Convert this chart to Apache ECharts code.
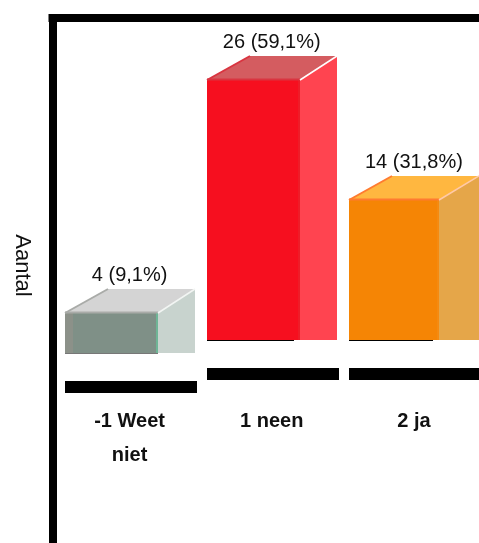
<!DOCTYPE html>
<html>
<head>
<meta charset="utf-8">
<style>html,body{margin:0;padding:0;background:#fff}#c{width:479px;height:543px}</style>
<script src="https://cdn.jsdelivr.net/npm/echarts@6/dist/echarts.min.js"></script>
</head>
<body>
<div id="c"></div>
<script>
const categories = ["-1 Weet\nniet", "1 neen", "2 ja"];
const counts = [4, 26, 14];
const valueLabels = ["4 (9,1%)", "26 (59,1%)", "14 (31,8%)"];
const axisName = "Aantal";

const palettes = [
  {front:"#7f9087", frontL:"#8c9189", accent:"#6fb596", side:"#c8d3ce", top:"#d4d4d4", edge:"#a9aba8", hi:"#f2f5f3", bottom:"#777777"},
  {front:"#f60f1f", frontL:"#f60f1f", accent:"#ee1c28", side:"#ff4450", top:"#d45c60", edge:"#d93440", hi:"#ffffff", bottom:"#000000"},
  {front:"#f58505", frontL:"#f58505", accent:"#f58a10", side:"#e5a649", top:"#ffb740", edge:"#ff7b30", hi:"#ffc9a8", bottom:"#000000"}
];

function renderBar(params, api) {
  const i = api.value(0);
  const zero = api.coord([i, 0]);
  const topPt = api.coord([i, api.value(1)]);
  const drop = i === 0 ? 13 : 0;
  const cx = zero[0];
  const base = zero[1] + drop;
  const top = topPt[1] + drop;
  const l = Math.round(cx - 58.6), r = l + (i === 2 ? 90 : 93), dxL = 43, dxR = i === 2 ? 40 : 37, dy = 24;
  const p = palettes[i];
  return {
    type: "group",
    children: [
      {type:"rect", shape:{x:l, y:top, width:r-l, height:base-top}, style:{fill:p.front}},
      {type:"rect", shape:{x:l, y:top, width:8, height:base-top}, style:{fill:p.frontL}},
      {type:"rect", shape:{x:r-2, y:top, width:2, height:base-top}, style:{fill:p.accent}},
      {type:"polygon", shape:{points:[[r,top],[r+dxR,top-dy],[r+dxR,base],[r,base]]}, style:{fill:p.side}},
      {type:"polygon", shape:{points:[[l,top],[l+dxL,top-dy],[r+dxR,top-dy],[r,top]]}, style:{fill:p.top}},
      {type:"polyline", shape:{points:[[l,top],[l+dxL,top-dy]]}, style:{stroke:p.edge, lineWidth:2, fill:null}},
      {type:"polyline", shape:{points:[[l,top-0.5],[r,top-0.5]]}, style:{stroke:p.edge, lineWidth:2, fill:null}},
      {type:"polyline", shape:{points:[[r,top],[r+dxR,top-dy]]}, style:{stroke:p.hi, lineWidth:1.5, fill:null}},
      {type:"rect", shape:{x:l, y:base, width:i === 0 ? r-l : r-l-6, height:1}, style:{fill:p.bottom}},
      {type:"rect", shape:{x:l, y:base+28, width:132, height:12}, style:{fill:"#000000"}},
      {type:"text", style:{text:valueLabels[i], x:cx+6, y:top-dy-14, align:"center", verticalAlign:"middle",
        font:"20px 'Liberation Sans', Arial, sans-serif", fill:"#111111"}}
    ]
  };
}

const chart = echarts.init(document.getElementById("c"), null, {renderer:"canvas"});
chart.setOption({
  animation: false,
  backgroundColor: "#ffffff",
  grid: {left:52.5, right:0, top:18, bottom:0, containLabel:false, outerBoundsMode:"none"},
  xAxis: [
    {type:"category", data:categories, position:"bottom", offset:-139,
     axisLine:{show:false}, axisTick:{show:false},
     axisLabel:{margin:0, interval:0, color:"#111111", fontFamily:"Liberation Sans", fontSize:20, fontWeight:"bold",
       lineHeight:34, padding:[0,0,0,12], verticalAlign:"top"}},
    {type:"category", data:categories, position:"top",
     axisLine:{show:true, lineStyle:{color:"#000000", width:8, cap:"square"}}, axisTick:{show:false}, axisLabel:{show:false}}
  ],
  yAxis: {
    type:"value", min:-20.3, max:32.2,
    name:axisName, nameLocation:"middle", nameRotate:-90, nameGap:19,
    nameTextStyle:{color:"#111111", fontFamily:"Liberation Sans", fontSize:22, padding:[0,30,0,0]},
    axisLine:{show:true, lineStyle:{color:"#000000", width:8, cap:"square"}},
    axisTick:{show:false}, axisLabel:{show:false}, splitLine:{show:false}
  },
  series: [{
    type:"custom", xAxisIndex:0, yAxisIndex:0, clip:false,
    renderItem:renderBar,
    encode:{x:0, y:1},
    data:counts.map((v,i)=>[i,v])
  }]
});
</script>
</body>
</html>
